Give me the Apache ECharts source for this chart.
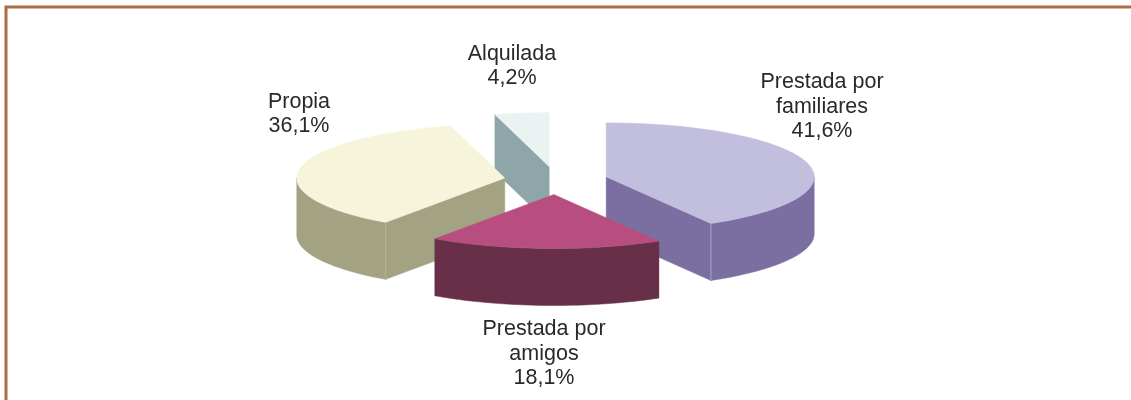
<!DOCTYPE html>
<html>
<head>
<meta charset="utf-8">
<style>
  html, body { margin: 0; padding: 0; background: #fff; }
  #chart { width: 1131px; height: 400px; }
</style>
<script src="https://cdn.jsdelivr.net/npm/echarts@6/dist/echarts.min.js"></script>
</head>
<body>
<div id="chart"></div>
<script>
const categories = ['Prestada por\nfamiliares', 'Prestada por\namigos', 'Propia', 'Alquilada']
const shares = [41.6, 18.1, 36.1, 4.2]

const topColors = ['#c2bede', '#b84e80', '#f6f4da', '#eaf3f2']
const sideColors = ['#7b6ea0', '#683048', '#a3a384', '#8fa6a8']
const edgeColors = ['#a8a2c8', '#683048', '#b5b597', '#8fa6a8']
const labelCenters = [[822, 107], [544, 354], [299, 114], [512, 66]]

// no 3d pie in plain echarts, so the tilted slices are projected here
const cx = 556, cy = 180.5
const rx = 208, ry = 54
const depth = 57
const explodeX = 52, explodeY = 14
const rad = Math.PI / 180

const total = shares.reduce((a, b) => a + b, 0)
let running = 0
const slices = shares.map((v, i) => {
  const start = running / total * 360
  running += v
  return { name: categories[i], value: [v, start, running / total * 360] }
})

function rimPoints(ox, oy, from, to, dy) {
  const pts = []
  const steps = Math.max(2, Math.ceil((to - from) / 2))
  for (let k = 0; k <= steps; k++) {
    const a = (from + (to - from) * k / steps) * rad
    pts.push([ox + rx * Math.sin(a), oy - ry * Math.cos(a) + dy])
  }
  return pts
}

function face(points, color, z2) {
  return {
    type: 'polygon',
    z2,
    shape: { points },
    style: { fill: color, stroke: color, lineWidth: 0.5 }
  }
}

function radialFace(ox, oy, angle, color, z2) {
  const a = angle * rad
  const px = ox + rx * Math.sin(a), py = oy - ry * Math.cos(a)
  return face([[ox, oy], [px, py], [px, py + depth], [ox, oy + depth]], color, z2)
}

function renderSlice(params, api) {
  const i = params.dataIndex
  const start = api.value(1), end = api.value(2)
  const mid = (start + end) / 2 * rad
  const ox = cx + explodeX * Math.sin(mid)
  const oy = cy - explodeY * Math.cos(mid)
  const base = Math.round(oy) * 10 // nearer slices paint over the ones behind
  const children = []

  if (Math.sin(start * rad) < -0.01) children.push(radialFace(ox, oy, start, sideColors[i], base))
  if (Math.sin(end * rad) > 0.01) children.push(radialFace(ox, oy, end, sideColors[i], base))

  const wallFrom = Math.max(start, 90), wallTo = Math.min(end, 270)
  if (wallTo > wallFrom) {
    const upper = rimPoints(ox, oy, wallFrom, wallTo, 0)
    const lower = rimPoints(ox, oy, wallFrom, wallTo, depth).reverse()
    children.push(face(upper.concat(lower), sideColors[i], base + 1))
    // thin seam where the wall meets the cut face
    const seam = Math.sin(end * rad) > 0.01 ? wallTo : wallFrom
    const sx = ox + rx * Math.sin(seam * rad), sy = oy - ry * Math.cos(seam * rad)
    children.push({
      type: 'line',
      z2: base + 2,
      shape: { x1: sx, y1: sy, x2: sx, y2: sy + depth },
      style: { stroke: edgeColors[i], lineWidth: 1 }
    })
  }

  const top = [[ox, oy]].concat(rimPoints(ox, oy, start, end, 0))
  children.push(face(top, topColors[i], base + 3))

  children.push({
    type: 'text',
    z2: 1000000,
    style: {
      x: labelCenters[i][0],
      y: labelCenters[i][1],
      text: categories[i] + '\n' + api.value(0).toFixed(1).replace('.', ',') + '%',
      fill: '#2b2829',
      font: '21.5px "Liberation Sans", Arial, sans-serif',
      lineHeight: 24.5,
      align: 'center',
      verticalAlign: 'middle'
    }
  })

  return { type: 'group', children }
}

const chart = echarts.init(document.getElementById('chart'), null, { renderer: 'canvas' })
chart.setOption({
  animation: false,
  backgroundColor: '#fff',
  graphic: [{
    type: 'polyline',
    silent: true,
    shape: { points: [[6, 400], [6, 7], [1131, 7]] },
    style: { fill: null, stroke: '#ad6b45', lineWidth: 3 }
  }],
  series: [{
    type: 'custom',
    coordinateSystem: 'none',
    silent: true,
    renderItem: renderSlice,
    data: slices
  }]
})
</script>
</body>
</html>
